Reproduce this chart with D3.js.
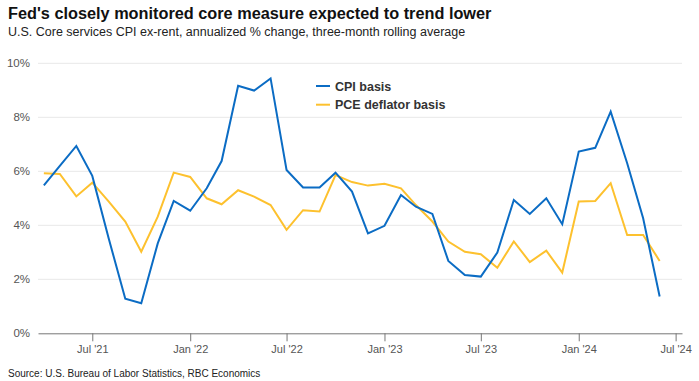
<!DOCTYPE html>
<html>
<head>
<meta charset="utf-8">
<script src="https://cdn.jsdelivr.net/npm/d3@7"></script>
<style>
  body { margin: 0; background: #fff; }
  svg { display: block; font-family: "Liberation Sans", Arial, sans-serif; }
</style>
</head>
<body>
<svg id="chart" width="699" height="381"></svg>
<script>
// monthly observations, Apr 2021 .. Jun 2024
var startMonth = [2021, 3]; // year, zero-based month
var cpiBasis = [5.48, 6.2, 6.94, 5.83, 3.5, 1.28, 1.11, 3.33, 4.90,
    4.54, 5.37, 6.38, 9.17, 8.99, 9.44, 6.05, 5.40, 5.40, 5.95, 5.25, 3.70,
    3.98, 5.12, 4.69, 4.42, 2.68, 2.16, 2.10, 2.99, 4.94, 4.42, 5.0, 4.04,
    6.73, 6.87, 8.21, 6.30, 4.26, 1.36];
var pceBasis = [5.93, 5.90, 5.07, 5.58, 4.88, 4.14, 3.02, 4.32, 5.95,
    5.79, 5.0, 4.78, 5.30, 5.06, 4.75, 3.83, 4.56, 4.51, 5.86, 5.60, 5.47,
    5.54, 5.37, 4.75, 4.14, 3.40, 3.02, 2.93, 2.43, 3.40, 2.64, 3.06, 2.25,
    4.88, 4.90, 5.56, 3.64, 3.64, 2.68];
var yTicks = [0, 2, 4, 6, 8, 10];
var xTicks = ["2021-07", "2022-01", "2022-07", "2023-01", "2023-07", "2024-01", "2024-07"];
var seriesNames = ["CPI basis", "PCE deflator basis"];
var seriesColors = ["#0b6cc4", "#fdc12e"];

var svg = d3.select("#chart");

var months = cpiBasis.map(function(d, i) {
    return new Date(Date.UTC(startMonth[0], startMonth[1] + i, 1));
});

var x = d3.scaleUtc()
    .domain([new Date(Date.UTC(2021, 2, 21)), new Date(Date.UTC(2024, 6, 13))])
    .range([38, 682]);
var y = d3.scaleLinear().domain([0, 10]).range([333.3, 63.3]);

// titles
svg.append("text").attr("x", 8).attr("y", 19)
    .style("font-size", "16.3px").style("font-weight", "bold").attr("fill", "#111")
    .text("Fed's closely monitored core measure expected to trend lower");
svg.append("text").attr("x", 8).attr("y", 36)
    .style("font-size", "12.5px").attr("fill", "#222")
    .text("U.S. Core services CPI ex-rent, annualized % change, three-month rolling average");

// gridlines
svg.append("g").selectAll("line")
    .data(yTicks.filter(function(d) { return d > 0; }))
    .join("line")
    .attr("x1", x.range()[0]).attr("x2", x.range()[1])
    .attr("y1", y).attr("y2", y)
    .attr("stroke", "#e8e8e8").attr("stroke-width", 1);

// y labels
svg.append("g").selectAll("text")
    .data(yTicks)
    .join("text")
    .attr("x", 30).attr("y", function(d) { return y(d) + 4; })
    .attr("text-anchor", "end")
    .style("font-size", "11.5px").attr("fill", "#555")
    .text(function(d) { return d + "%"; });

// x axis
var parseMonth = d3.utcParse("%Y-%m");
var fmt = d3.utcFormat("%b '%y");
var xAxis = d3.axisBottom(x)
    .tickValues(xTicks.map(parseMonth))
    .tickFormat(fmt)
    .tickSize(8)
    .tickSizeOuter(0);
var gx = svg.append("g").attr("transform", "translate(0," + y(0) + ")").call(xAxis);
gx.select(".domain").attr("stroke", "#777");
gx.selectAll(".tick line").attr("stroke", "#777");
gx.selectAll(".tick text")
    .attr("dy", "0.85em").attr("y", 10)
    .style("font-size", "11px").style("font-family", "Liberation Sans, Arial, sans-serif")
    .attr("fill", "#555");

// lines
var line = d3.line()
    .x(function(d, i) { return x(months[i]); })
    .y(function(d) { return y(d); });

[pceBasis, cpiBasis].forEach(function(vals) {
    var k = vals === cpiBasis ? 0 : 1;
    svg.append("path")
        .datum(vals)
        .attr("d", line)
        .attr("fill", "none")
        .attr("stroke", seriesColors[k])
        .attr("stroke-width", 2)
        .attr("stroke-linejoin", "miter");
});

// legend
var lg = svg.append("g").attr("transform", "translate(316,86)");
seriesNames.forEach(function(name, k) {
    var row = lg.append("g").attr("transform", "translate(0," + (k * 18.7) + ")");
    row.append("line").attr("x1", 0).attr("x2", 14).attr("y1", 0).attr("y2", 0)
        .attr("stroke", seriesColors[k]).attr("stroke-width", 2);
    row.append("text").attr("x", 19).attr("y", 4.5)
        .style("font-size", "12.5px").style("font-weight", "bold").attr("fill", "#333")
        .text(name);
});

// source
svg.append("text").attr("x", 8).attr("y", 377)
    .style("font-size", "10px").attr("fill", "#222")
    .text("Source: U.S. Bureau of Labor Statistics, RBC Economics");
</script>
</body>
</html>
